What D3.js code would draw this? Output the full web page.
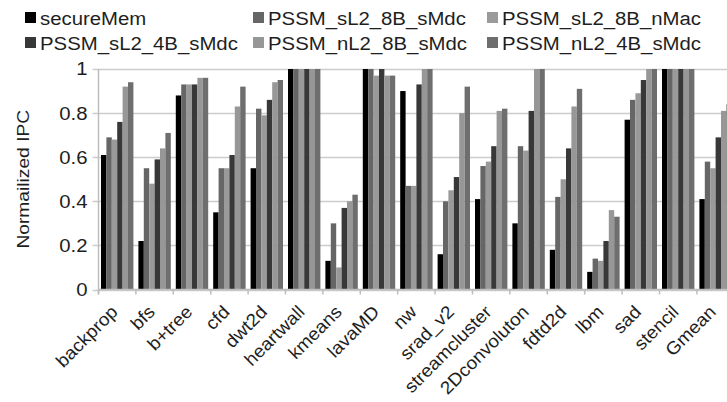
<!DOCTYPE html>
<html>
<head>
<meta charset="utf-8">
<script src="https://cdn.jsdelivr.net/npm/d3@7/dist/d3.min.js"></script>
<style>
  body { margin: 0; background: #fff; }
  svg { display: block; }
  text { font-family: "Liberation Sans", Arial, sans-serif; fill: #1e1e1e; }
</style>
</head>
<body>
<script>
(function () {
    'use strict';

    var categories = ['backprop', 'bfs', 'b+tree', 'cfd', 'dwt2d', 'heartwall', 'kmeans', 'lavaMD',
        'nw', 'srad_v2', 'streamcluster', '2Dconvoluton', 'fdtd2d', 'lbm', 'sad', 'stencil', 'Gmean'];
    var seriesNames = ['secureMem', 'PSSM_sL2_8B_sMdc', 'PSSM_sL2_8B_nMac',
        'PSSM_sL2_4B_sMdc', 'PSSM_nL2_8B_sMdc', 'PSSM_nL2_4B_sMdc'];
    var seriesColors = ['#000000', '#666666', '#9a9a9a', '#383838', '#979797', '#6e6e6e'];

    var secureMem      = [0.61, 0.22, 0.88, 0.35, 0.55, 1.00, 0.13, 1.00, 0.90, 0.16, 0.41, 0.30, 0.18, 0.08, 0.77, 1.00, 0.41];
    var sL2_8B_sMdc    = [0.69, 0.55, 0.93, 0.55, 0.82, 1.00, 0.30, 1.00, 0.47, 0.40, 0.56, 0.65, 0.42, 0.14, 0.86, 1.00, 0.58];
    var sL2_8B_nMac    = [0.68, 0.48, 0.93, 0.55, 0.79, 1.00, 0.10, 0.97, 0.47, 0.45, 0.58, 0.63, 0.50, 0.13, 0.89, 1.00, 0.55];
    var sL2_4B_sMdc    = [0.76, 0.59, 0.93, 0.61, 0.86, 1.00, 0.37, 1.00, 0.93, 0.51, 0.65, 0.81, 0.64, 0.22, 0.95, 1.00, 0.69];
    var nL2_8B_sMdc    = [0.92, 0.64, 0.96, 0.83, 0.94, 1.00, 0.40, 0.97, 1.00, 0.80, 0.81, 1.00, 0.83, 0.36, 1.00, 1.00, 0.81];
    var nL2_4B_sMdc    = [0.94, 0.71, 0.96, 0.92, 0.95, 1.00, 0.43, 0.97, 1.00, 0.92, 0.82, 1.00, 0.91, 0.33, 1.00, 1.00, 0.84];
    var seriesValues = [secureMem, sL2_8B_sMdc, sL2_8B_nMac, sL2_4B_sMdc, nL2_8B_sMdc, nL2_4B_sMdc];

    var yTicks = [0, 0.2, 0.4, 0.6, 0.8, 1];
    var yTickLabels = ['0', '0.2', '0.4', '0.6', '0.8', '1'];

    var width = 727, height = 402;
    var left = 98.5, top = 69, bottom = 289.5;
    var step = 37.4;

    var svg = d3.select('body')
        .append('svg')
        .attr('width', width)
        .attr('height', height);

    var x0 = d3.scaleBand()
        .domain(categories)
        .range([left, left + step * categories.length])
        .padding(0);
    var x1 = d3.scaleBand()
        .domain(d3.range(seriesNames.length))
        .range([2.5, step - 2.5]);
    var y = d3.scaleLinear()
        .domain([0, 1])
        .range([bottom, top])
        .clamp(true);

    // make text a bit wider, like the stretched original
    function widen(k) {
        return function (sel) {
            sel.each(function () {
                var len = this.getComputedTextLength();
                d3.select(this)
                    .attr('textLength', len * k)
                    .attr('lengthAdjust', 'spacingAndGlyphs');
            });
        };
    }

    // grid lines
    svg.append('g')
        .selectAll('line')
        .data(yTicks)
        .enter()
        .append('line')
        .attr('x1', left - 6)
        .attr('x2', width)
        .attr('y1', function (d) { return Math.round(y(d)) + 0.5; })
        .attr('y2', function (d) { return Math.round(y(d)) + 0.5; })
        .attr('stroke', '#cccccc')
        .attr('stroke-width', 1.5);

    // y axis labels
    svg.append('g')
        .selectAll('text')
        .data(yTicks)
        .enter()
        .append('text')
        .attr('x', left - 11)
        .attr('y', function (d) { return y(d); })
        .attr('dy', '0.36em')
        .attr('text-anchor', 'end')
        .style('font-size', '18px')
        .text(function (d, i) { return yTickLabels[i]; })
        .call(widen(1.13));

    // bars
    var groups = svg.append('g')
        .selectAll('g')
        .data(categories)
        .enter()
        .append('g')
        .attr('transform', function (d) { return 'translate(' + x0(d) + ',0)'; });

    groups.selectAll('rect')
        .data(function (d, i) {
            return seriesValues.map(function (vals, s) {
                return { s: s, v: vals[i] };
            });
        })
        .enter()
        .append('rect')
        .attr('x', function (d) { return x1(d.s); })
        .attr('width', x1.bandwidth())
        .attr('y', function (d) { return y(d.v); })
        .attr('height', function (d) { return y(0) - y(d.v); })
        .attr('fill', function (d) { return seriesColors[d.s]; });

    // axis lines
    svg.append('line')
        .attr('x1', left).attr('x2', left)
        .attr('y1', top).attr('y2', bottom + 5)
        .attr('stroke', '#bdbdbd').attr('stroke-width', 1.5);
    svg.append('line')
        .attr('x1', left).attr('x2', width)
        .attr('y1', bottom).attr('y2', bottom)
        .attr('stroke', '#bdbdbd').attr('stroke-width', 1.5);

    // x ticks at group boundaries
    svg.append('g')
        .selectAll('line')
        .data(categories)
        .enter()
        .append('line')
        .attr('x1', function (d) { return x0(d); })
        .attr('x2', function (d) { return x0(d); })
        .attr('y1', bottom)
        .attr('y2', bottom + 5)
        .attr('stroke', '#bdbdbd')
        .attr('stroke-width', 1.5);

    // x labels
    svg.append('g')
        .selectAll('text')
        .data(categories)
        .enter()
        .append('text')
        .attr('transform', function (d) {
            return 'translate(' + (x0(d) + step / 2 - 3) + ',' + (bottom + 19) + ') rotate(-45)';
        })
        .attr('text-anchor', 'end')
        .attr('dy', '0.35em')
        .style('font-size', '18px')
        .text(function (d) { return d; })
        .call(widen(1.06));

    // y title
    svg.append('text')
        .attr('transform', 'translate(29,' + ((top + bottom) / 2) + ') rotate(-90)')
        .attr('text-anchor', 'middle')
        .style('font-size', '17px')
        .text('Normailized IPC')
        .call(widen(1.13));

    // legend
    var legendPos = [[25, 12], [253, 12], [487, 12], [25, 37], [253, 37], [487, 37]];
    var legend = svg.append('g')
        .selectAll('g')
        .data(seriesNames)
        .enter()
        .append('g')
        .attr('transform', function (d, i) {
            return 'translate(' + legendPos[i][0] + ',' + legendPos[i][1] + ')';
        });
    legend.append('rect')
        .attr('width', 11)
        .attr('height', 11)
        .attr('fill', function (d, i) { return seriesColors[i]; });
    legend.append('text')
        .attr('x', 15)
        .attr('y', 13)
        .style('font-size', '18px')
        .text(function (d) { return d; })
        .call(widen(1.13));
}());
</script>
</body>
</html>
